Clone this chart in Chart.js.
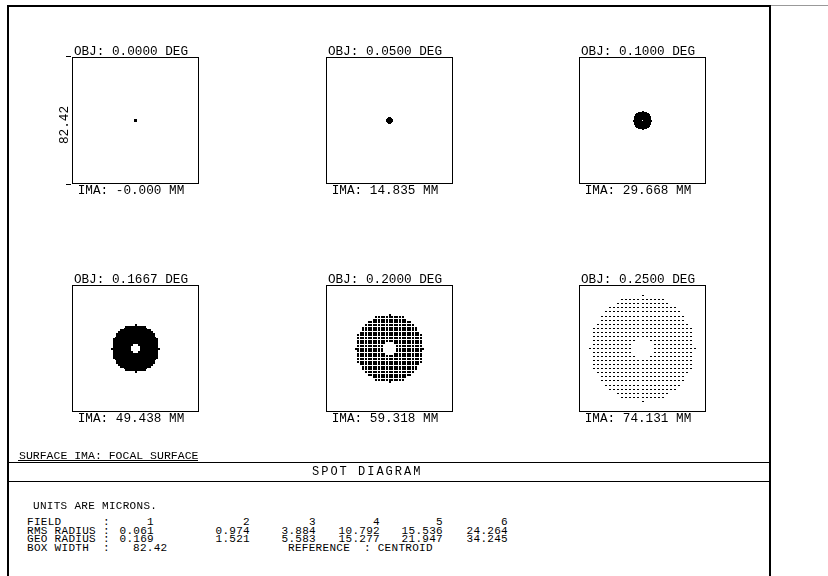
<!DOCTYPE html>
<html>
<head>
<meta charset="utf-8">
<script src="https://cdn.jsdelivr.net/npm/chart.js@4.4.1/dist/chart.umd.min.js"></script>
<style>
  html, body { margin: 0; padding: 0; background: #fff; width: 828px; height: 576px; overflow: hidden; }
  #page { position: relative; width: 828px; height: 576px; font-family: 'Liberation Mono', 'DejaVu Sans Mono', monospace; color: #000; }
  .t { position: absolute; white-space: pre; line-height: 1; }
  .ln { position: absolute; background: #000; }
  canvas { position: absolute; }
</style>
</head>
<body>
<div id="page"></div>
<script>
// Field points of the spot diagram
const fieldAngleDeg = [0.0000, 0.0500, 0.1000, 0.1667, 0.2000, 0.2500];
const imageHeightMM = ['-0.000', '14.835', '29.668', '49.438', '59.318', '74.131'];
// Spot sizes per field, microns
const rmsRadius = [0.061, 0.974, 3.884, 10.792, 15.536, 24.264];
const geoRadius = [0.169, 1.521, 5.583, 15.277, 21.947, 34.245];
const boxWidth = 82.42;
// Pupil sampling: square ray grid across an annular (obscured) aperture
const pupilRays = 27;
const obscuration = 0.2;

const page = document.getElementById('page');

function addText(str, left, capTop, size, extra) {
  const d = document.createElement('div');
  d.className = 't';
  d.textContent = str;
  d.style.left = left + 'px';
  d.style.top = (capTop - 0.107 * size) + 'px';
  d.style.fontSize = size + 'px';
  if (extra) Object.assign(d.style, extra);
  page.appendChild(d);
  return d;
}
function addLine(x, y, w, h, color) {
  const d = document.createElement('div');
  d.className = 'ln';
  Object.assign(d.style, { left: x + 'px', top: y + 'px', width: w + 'px', height: h + 'px' });
  if (color) d.style.background = color;
  page.appendChild(d);
}

// Outer frame and panel rules
addLine(7, 5, 764, 2);
addLine(771, 5, 57, 1, '#999');
addLine(7, 5, 2, 571);
addLine(769, 5, 2, 571);
addLine(9, 462, 760, 1);
addLine(9, 481, 760, 1);

// Plot box layout
const boxLefts = [71, 325, 578];
const boxTops = [56, 284];
const boxSize = 128;

// Ray grid on the entrance pupil
const pupil = [];
for (let i = 0; i < pupilRays; i++) {
  for (let j = 0; j < pupilRays; j++) {
    const px = -1 + 2 * i / (pupilRays - 1);
    const py = -1 + 2 * j / (pupilRays - 1);
    const r = Math.hypot(px, py);
    if (r <= 1 && r >= obscuration) pupil.push([px, py]);
  }
}

// Pixel ray markers
function makeMarker(w, h) {
  const m = document.createElement('canvas');
  m.width = w; m.height = h;
  const c = m.getContext('2d');
  c.fillStyle = '#000';
  c.fillRect(0, 0, w, h);
  return m;
}
const markerSquare = makeMarker(2, 2);
const markerDash = makeMarker(2, 1);

const crispPoints = {
  id: 'crispPoints',
  beforeDatasetsDraw(chart) { chart.ctx.imageSmoothingEnabled = false; }
};
const boxFrame = {
  id: 'boxFrame',
  afterDraw(chart) {
    const { ctx, chartArea: a } = chart;
    ctx.save();
    ctx.strokeStyle = '#000';
    ctx.lineWidth = 1;
    ctx.strokeRect(a.left + 0.5, a.top + 0.5, a.right - a.left - 1, a.bottom - a.top - 1);
    ctx.restore();
  }
};

const half = boxWidth / 2;
fieldAngleDeg.forEach((deg, k) => {
  const col = k % 3, row = Math.floor(k / 3);
  const left = boxLefts[col], top = boxTops[row];

  const cv = document.createElement('canvas');
  cv.width = boxSize + 1; cv.height = boxSize + 1;
  cv.style.left = left + 'px'; cv.style.top = top + 'px';
  cv.style.width = (boxSize + 1) + 'px'; cv.style.height = (boxSize + 1) + 'px';
  page.appendChild(cv);

  const R = geoRadius[k];
  const pts = pupil.map(([px, py]) => ({ x: R * px, y: R * py }));
  const marker = k === fieldAngleDeg.length - 1 ? markerDash : markerSquare;

  new Chart(cv, {
    type: 'scatter',
    data: { datasets: [{ data: pts, pointStyle: marker, pointRadius: 1, pointHoverRadius: 1, borderWidth: 0 }] },
    options: {
      responsive: false, animation: false, events: [],
      layout: { padding: 0 },
      plugins: { legend: { display: false }, tooltip: { enabled: false } },
      scales: {
        x: { type: 'linear', min: -half, max: half, display: false },
        y: { type: 'linear', min: -half, max: half, display: false }
      }
    },
    plugins: [crispPoints, boxFrame]
  });

  const fs = 12.7;
  addText('OBJ: ' + deg.toFixed(4) + ' DEG', left - 4, top - 9, fs, { width: boxSize + 'px', textAlign: 'center' });
  addText('IMA: ' + imageHeightMM[k] + ' MM', left - 4, top + boxSize + 2, fs, { width: boxSize + 'px', textAlign: 'center' });
});

// Scale bar on the first box
addLine(66, 56, 5, 1);
addLine(66, 184, 5, 1);
addText(boxWidth.toFixed(2), 44, 122, 12.7, { width: '38px', textAlign: 'center', transform: 'rotate(-90deg)', transformOrigin: '19px 4px' });

// Footer
addText('SURFACE IMA: FOCAL SURFACE', 19, 451, 11.5);
addLine(18, 460, 180, 1);
addText('SPOT DIAGRAM', 312, 467, 12, { letterSpacing: '2px' });

const tfs = 11;
const ls = { letterSpacing: '0.3px' };
const rowCap = [518, 526.7, 535.4, 544.1];
const valueRight = [154, 250, 316, 380, 443, 508];
addText('UNITS ARE MICRONS.', 33, 502, tfs, ls);
addText('FIELD      :', 27, rowCap[0], tfs, ls);
addText('RMS RADIUS :', 27, rowCap[1], tfs, ls);
addText('GEO RADIUS :', 27, rowCap[2], tfs, ls);
addText('BOX WIDTH  :', 27, rowCap[3], tfs, ls);
function addRight(str, right, capTop) {
  addText(str, right - 80, capTop, tfs, { width: '80px', textAlign: 'right', letterSpacing: '0.3px' });
}
fieldAngleDeg.forEach((_, k) => {
  addRight(String(k + 1), valueRight[k], rowCap[0]);
  addRight(rmsRadius[k].toFixed(3), valueRight[k], rowCap[1]);
  addRight(geoRadius[k].toFixed(3), valueRight[k], rowCap[2]);
});
addText(boxWidth.toFixed(2), 133, rowCap[3], tfs, ls);
addText('REFERENCE  : CENTROID', 288, rowCap[3], tfs, ls);
</script>
</body>
</html>
